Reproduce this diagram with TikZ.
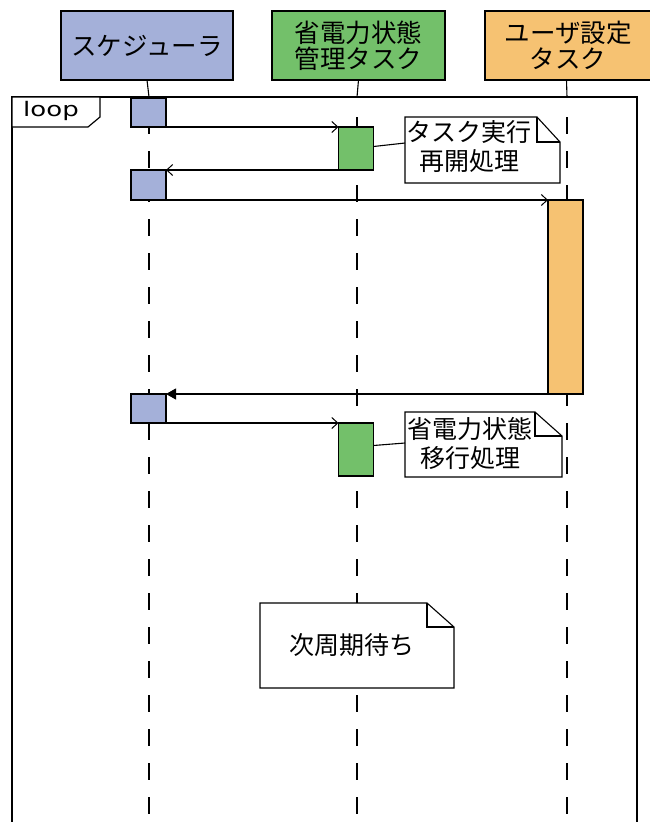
\documentclass[tikz,border=0pt]{standalone}
\usepackage{fontspec}
\setmainfont{Noto Sans CJK JP}
\newfontfamily\loopfont{DejaVu Sans}
\usetikzlibrary{arrows.meta}
\definecolor{schedc}{HTML}{A4B0D9}
\definecolor{powc}{HTML}{73C06A}
\definecolor{userc}{HTML}{F6C272}
\tikzset{
  hdr/.style={draw=black, line width=1.2pt, inner sep=0pt, outer sep=0pt, align=center, font=\fontsize{25.5}{26}\selectfont},
  actbox/.style={draw=black, line width=1.1pt, inner sep=0pt, outer sep=0pt, minimum width=35pt},
  msg/.style={line width=1.1pt, -{Straight Barb[length=6pt,width=11pt,line width=1pt]}},
  reply/.style={line width=1.1pt, -{Triangle[length=10pt,width=11pt]}},
  lifesolid/.style={line width=1.1pt},
  lifedash/.style={line width=1.1pt, dash pattern=on 17pt off 17pt},
  noteline/.style={draw=black, fill=white, line width=1.1pt, line join=miter},
  notetext/.style={align=center, inner sep=0pt, font=\fontsize{25}{29}\selectfont},
}
\begin{document}
\begin{tikzpicture}[x=1pt,y=-1pt]
\useasboundingbox (0,0) rectangle (650,822);
% headers
\node[hdr, fill=schedc, minimum width=172pt, minimum height=69pt] (sch) at (147,45.5) {スケジューラ};
\node[hdr, fill=powc, minimum width=173pt, minimum height=69pt] (pow) at (358.5,45.5) {省電力状態\\管理タスク};
\node[hdr, fill=userc, minimum width=166pt, minimum height=69pt] (usr) at (568,45.5) {ユーザ設定\\タスク};
% lifeline end coordinates
\coordinate (schTop) at (149,97);
\coordinate (powTop) at (357,97);
\coordinate (usrTop) at (567,97);
\coordinate (schD) at (149,117);
\coordinate (powD) at (357,117);
\coordinate (usrD) at (567,117);
\coordinate (schEnd) at (149,830);
\coordinate (powEnd) at (357,830);
\coordinate (usrEnd) at (567,830);
\draw[lifesolid] (sch.south) -- (schTop);
\draw[lifesolid] (pow.south) -- (powTop);
\draw[lifesolid] ([xshift=-1.5pt]usr.south) -- (usrTop);
\draw[lifedash] (schD) -- (schEnd);
\draw[lifedash] (powD) -- (powEnd);
\draw[lifedash] (usrD) -- (usrEnd);
% loop frame
\draw[line width=1.2pt] (12,840) -- (12,97) -- (637,97) -- (637,840);
\draw[line width=1.2pt, fill=white] (12,97) -- (100,97) -- (100,117) -- (88,127) -- (12,127) -- cycle;
\node[font=\loopfont\fontsize{20}{20}\selectfont, anchor=west, inner sep=0pt] (looplbl) at (23,111) {\scalebox{1.3}[1]{loop}};
% activations
\node[actbox, fill=schedc, minimum height=29pt] (s1) at (148.5,112.5) {};
\node[actbox, fill=powc, minimum height=43pt] (p1) at (356,148.5) {};
\node[actbox, fill=schedc, minimum height=30pt] (s2) at (148.5,185) {};
\node[actbox, fill=userc, minimum height=194pt] (u1) at (565.5,297) {};
\node[actbox, fill=schedc, minimum height=29pt] (s3) at (148.5,408.5) {};
\node[actbox, fill=powc, minimum height=53pt] (p2) at (356,449.5) {};
% messages
\draw[msg] (s1.south east) -- (p1.north west);
\draw[msg] (p1.south west) -- (s2.north east);
\draw[msg] (s2.south east) -- (u1.north west);
\draw[reply] (u1.south west) -- (s3.north east);
\draw[msg] (s3.south east) -- (p2.north west);
% note 1
\draw[noteline] (405,117) -- (537,117) -- (560,142) -- (560,183) -- (405,183) -- cycle;
\draw[line width=1.1pt] (537,117) -- (537,142) -- (560,142);
\node[notetext] (n1) at (469,147) {タスク実行\\再開処理};
\coordinate (n1w) at (405,143);
\draw[line width=1.1pt] ([yshift=2pt]p1.east) -- (n1w);
% note 2
\draw[noteline] (405,412) -- (535,412) -- (562,436) -- (562,477) -- (405,477) -- cycle;
\draw[line width=1.1pt] (535,412) -- (535,436) -- (562,436);
\node[notetext] (n2) at (470,443) {省電力状態\\移行処理};
\coordinate (n2w) at (405,443);
\draw[line width=1.1pt] ([yshift=4pt]p2.east) -- (n2w);
% note 3
\draw[noteline] (260,603) -- (427,603) -- (454,627) -- (454,688) -- (260,688) -- cycle;
\draw[line width=1.1pt] (427,603) -- (427,627) -- (454,627);
\node[notetext] (n3) at (352,645) {次周期待ち};
\end{tikzpicture}
\end{document}
